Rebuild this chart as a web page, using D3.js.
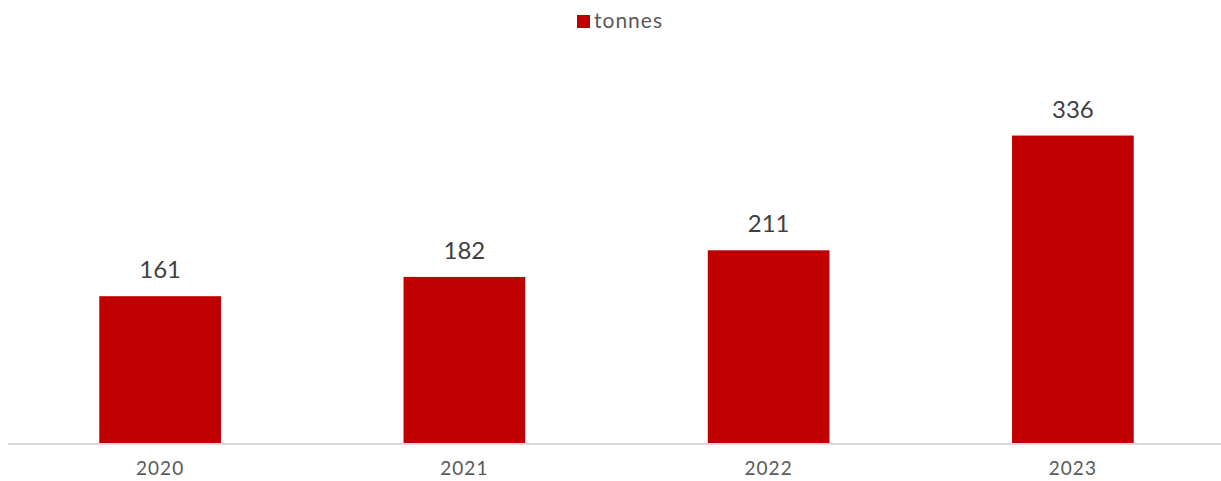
<!DOCTYPE html>
<html>
<head>
<meta charset="utf-8">
<script src="https://cdn.jsdelivr.net/npm/d3@7"></script>
<style>
  body { margin: 0; background: #fff; }
  text { font-family: "Lato", "Noto Sans", sans-serif; }
</style>
</head>
<body>
<div id="chart"></div>
<script>
const years = ["2020", "2021", "2022", "2023"];
const tonnes = [161, 182, 211, 336];
const seriesName = "tonnes";

const width = 1221;
const height = 481;
const baseline = 444;

const svg = d3.select("#chart")
    .append("svg")
    .attr("width", width)
    .attr("height", height);

const x = d3.scaleBand()
    .domain(years)
    .range([8, 1225])
    .paddingInner(0.6)
    .paddingOuter(0.3);

const y = d3.scaleLinear()
    .domain([0, 400])
    .range([baseline, baseline - 400 * 0.918]);

// bars
svg.selectAll(".bar")
    .data(years)
    .enter()
    .append("rect")
    .attr("class", "bar")
    .attr("x", d => x(d))
    .attr("width", x.bandwidth())
    .attr("y", (d, i) => y(tonnes[i]))
    .attr("height", (d, i) => y(0) - y(tonnes[i]))
    .attr("fill", "#c00000");

// value labels
svg.selectAll(".val")
    .data(years)
    .enter()
    .append("text")
    .attr("class", "val")
    .attr("x", d => x(d) + x.bandwidth() / 2)
    .attr("y", (d, i) => y(tonnes[i]) - 18)
    .attr("text-anchor", "middle")
    .attr("font-size", "24px")
    .attr("fill", "#404040")
    .text((d, i) => tonnes[i]);

// x axis
const xAxis = svg.append("g")
    .attr("transform", "translate(0," + baseline + ")")
    .call(d3.axisBottom(x).tickSize(0).tickPadding(18));

xAxis.select(".domain")
    .attr("d", "M8,0H1221")
    .attr("stroke", "#d9d9d9")
    .attr("stroke-width", 2);

xAxis.selectAll("text")
    .attr("font-size", "19px")
    .attr("fill", "#595959")
    .attr("letter-spacing", "1px")
    .style("font-family", "Lato, 'Noto Sans', sans-serif");

// legend
const legend = svg.append("g").attr("transform", "translate(577,15)");
legend.append("rect")
    .attr("width", 13)
    .attr("height", 13)
    .attr("fill", "#c00000");
legend.append("text")
    .attr("x", 17)
    .attr("y", 13)
    .attr("font-size", "21px")
    .attr("letter-spacing", "1px")
    .attr("fill", "#595959")
    .text(seriesName);
</script>
</body>
</html>
